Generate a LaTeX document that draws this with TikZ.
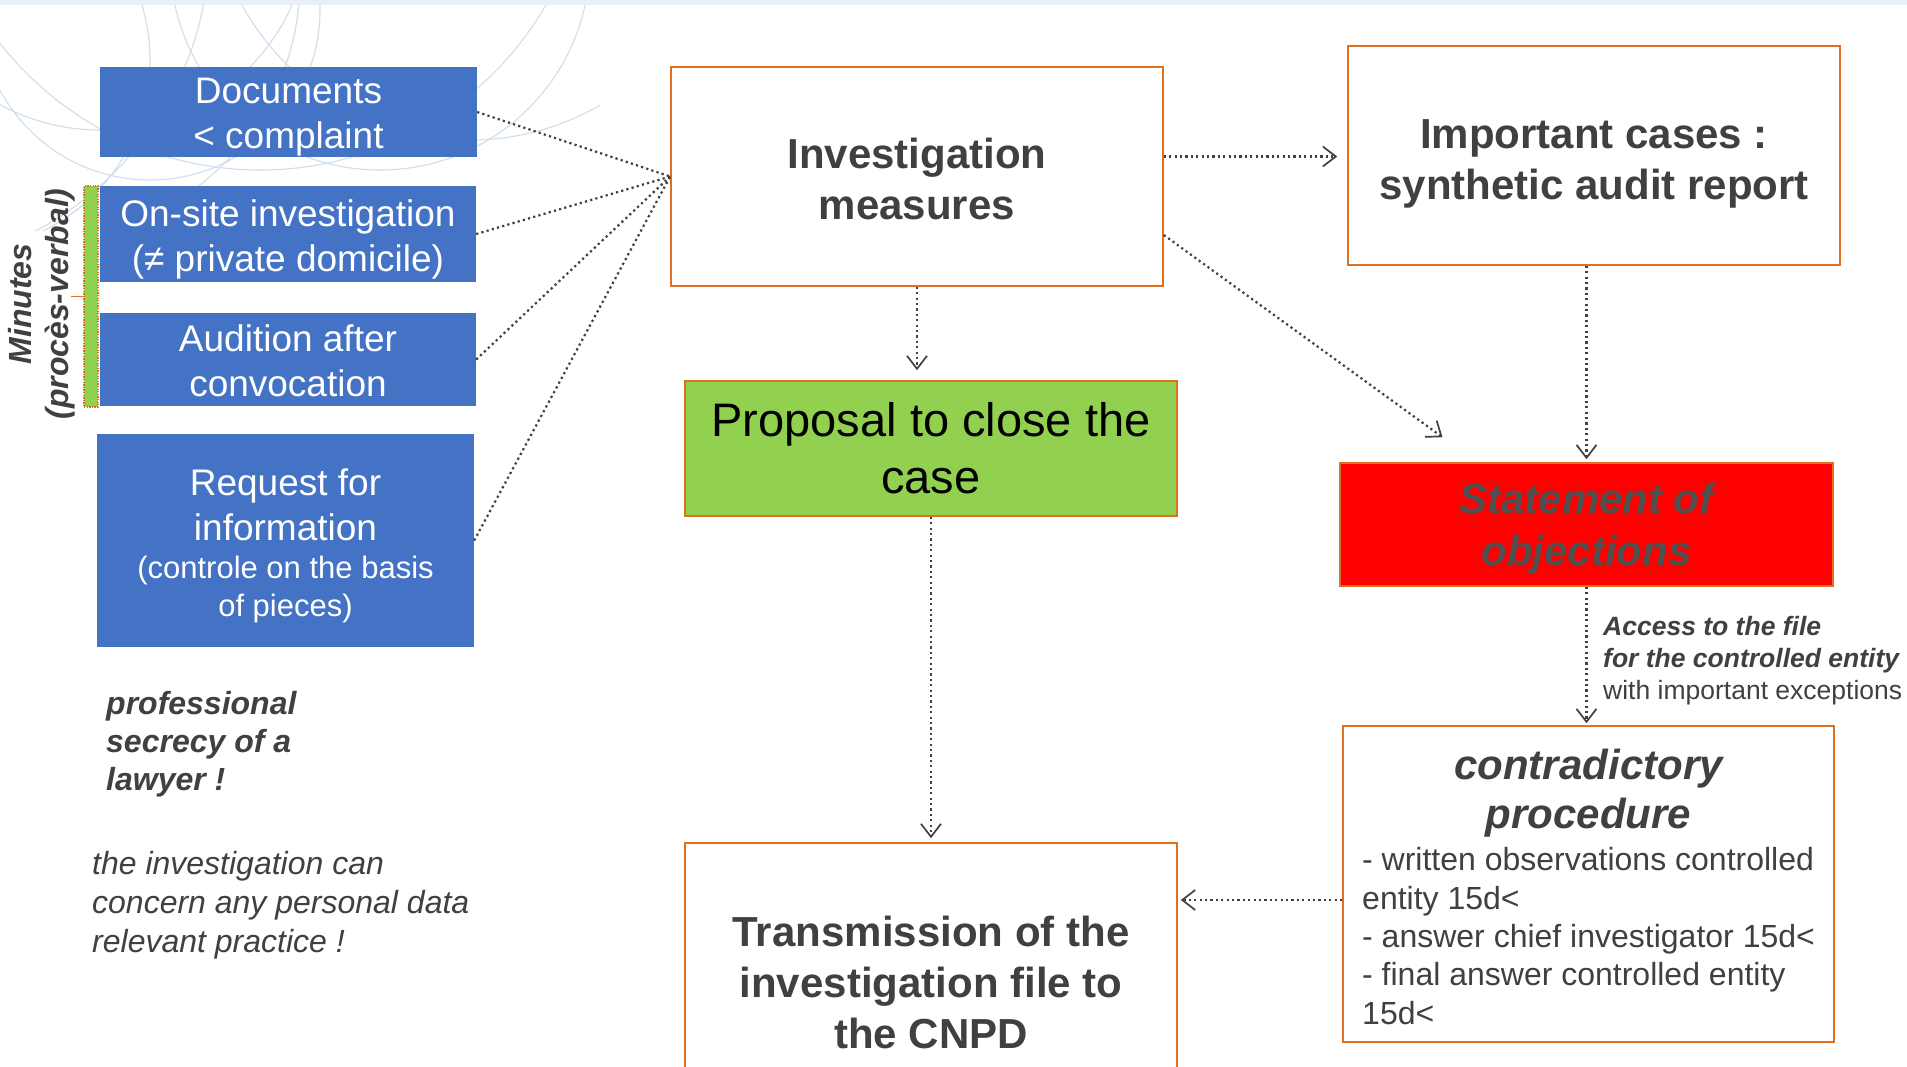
\documentclass[tikz,border=0pt]{standalone}
\usepackage{fontspec}
\setmainfont{Liberation Sans}
\usetikzlibrary{arrows.meta}

\definecolor{boxblue}{HTML}{4472C4}
\definecolor{edgeorange}{HTML}{E0701C}
\definecolor{okgreen}{HTML}{92D050}
\definecolor{alertred}{HTML}{FF0000}
\definecolor{txtgray}{HTML}{404040}
\definecolor{objgray}{HTML}{505050}
\definecolor{arcblue}{HTML}{D0DDEB}
\definecolor{bandblue}{HTML}{E8EFF8}

\newcommand\setfs[2]{\fontsize{#1}{#2}\selectfont}

\tikzset{
  bluebox/.style={fill=boxblue, inner sep=0pt},
  bluetext/.style={text=white, align=center, inner sep=0pt, font=\setfs{37}{45}},
  stagebox/.style={draw=edgeorange, line width=1.6pt, inner sep=0pt},
  stagetext/.style={align=center, inner sep=0pt, text=txtgray},
  plain/.style={align=left, inner sep=0pt, anchor=west, text=txtgray},
  feed/.style={draw=txtgray, line width=2.2pt, dash pattern=on 2.2pt off 3.2pt},
  flow/.style={feed, -{Straight Barb[length=13pt,width=20pt,line width=1.7pt]}},
}

\begin{document}
\begin{tikzpicture}[x=1pt, y=-1pt]
  \useasboundingbox (0,0) rectangle (1907,1066);
  \clip (0,0) rectangle (1907,1066);
  \fill[white] (0,0) rectangle (1907,1066);

  % ornamental arcs in the upper left corner and the top band
  \begin{scope}
    \clip (0,5) rectangle (600,230);
    \foreach \cx/\cy/\r in {100/-80/210, 260/-160/330, -40/60/190, 380/-40/210,
                            150/10/170, 40/-20/260, 470/-120/260, -120/-60/330}
      \draw[arcblue, line width=1.1pt] (\cx,\cy) circle[radius=\r];
  \end{scope}
  \fill[bandblue] (0,0) rectangle (1907,5);

  % inputs of the investigation
  \node[bluebox, minimum width=377pt, minimum height=90pt] (docs) at (288.5,112) {};
  \node[bluetext] (docs-txt) at ([yshift=-5pt]docs.center) {Documents\\< complaint};
  \node[bluebox, minimum width=376pt, minimum height=96pt] (onsite) at (288,234) {};
  \node[bluetext] (onsite-txt) at ([yshift=-5pt]onsite.center) {On-site investigation\\(≠ private domicile)};
  \node[bluebox, minimum width=376pt, minimum height=93pt] (audition) at (288,359.5) {};
  \node[bluetext] (audition-txt) at ([yshift=-1pt]audition.center) {Audition after\\convocation};
  \node[bluebox, minimum width=377pt, minimum height=213pt] (request) at (285.5,540.5) {};
  \node[bluetext] (request-txt) at ([yshift=-5pt]request.center)
    {Request for\\information\\[-7pt]
     \setfs{31}{38}(controle on the basis\\[-7pt]\setfs{31}{38}of pieces)};

  % minutes bracket
  \node[fill=okgreen, draw=edgeorange, line width=1.3pt, dash pattern=on 1.3pt off 1.3pt,
        minimum width=14pt, minimum height=221pt, inner sep=0pt] (bracket) at (91,296.5) {};
  \draw[edgeorange, line width=1.8pt] (bracket.west) -- ++(-12,0);
  \node[rotate=90, align=center, text=txtgray, inner sep=0pt, font=\setfs{32}{37}\bfseries\itshape]
    (minutes) at (42,304) {Minutes\\(procès-verbal)};

  % main stages
  \node[stagebox, minimum width=492pt, minimum height=219pt] (invest) at (917,176.5) {};
  \node[stagetext, font=\setfs{42}{51}\bfseries] (invest-txt) at ([yshift=-2pt]invest.center)
    {Investigation\\measures};
  \node[stagebox, minimum width=492pt, minimum height=219pt] (important) at (1594,155.5) {};
  \node[stagetext, font=\setfs{42}{51}\bfseries] (important-txt) at ([yshift=-8pt]important.center)
    {Important cases :\\synthetic audit report};
  \node[stagebox, fill=okgreen, minimum width=492pt, minimum height=135pt] (proposal) at (931,448.5) {};
  \node[stagetext, text=black, font=\setfs{47}{57}] (proposal-txt) at (proposal.center)
    {Proposal to close the\\case};
  \node[stagebox, fill=alertred, minimum width=493pt, minimum height=123pt] (statement) at (1586.5,524.5) {};
  \node[stagetext, text=objgray, font=\setfs{42}{52}\bfseries\itshape] (statement-txt)
    at ([yshift=-4pt]statement.center) {Statement of\\objections};
  \node[stagebox, minimum width=491pt, minimum height=316pt] (contra) at (1588.5,884) {};
  \node[stagetext, font=\setfs{42}{49}\bfseries\itshape] (contra-title) at (1588.5,793)
    {contradictory\\procedure};
  \node[plain, font=\setfs{32}{38.3}] (contra-list) at (1362,936)
    {- written observations controlled\\entity 15d<\\- answer chief investigator 15d<\\- final answer controlled entity\\15d<};
  \node[stagebox, minimum width=492pt, minimum height=277pt] (trans) at (931,981.5) {};
  \node[stagetext, font=\setfs{42}{51}\bfseries] (trans-txt) at ([yshift=-1pt]trans.center)
    {Transmission of the\\investigation file to\\the CNPD};

  % side notes
  \node[plain, font=\setfs{26.5}{32}] (access) at (1603,661)
    {\textbf{\textit{Access to the file}}\\\textbf{\textit{for the controlled entity}}\\with important exceptions};
  \node[plain, font=\setfs{32}{38}\bfseries\itshape] (secrecy) at (106,744)
    {professional\\secrecy of a\\lawyer !};
  \node[plain, font=\setfs{32}{39}\itshape] (scope) at (92,905)
    {the investigation can\\concern any personal data\\relevant practice !};

  % connectors
  \foreach \src in {docs, onsite, audition, request}
    \draw[feed] (\src.east) -- (invest.west);
  \draw[flow, shorten >=10pt] ([yshift=20pt]invest.east) -- ([yshift=20pt]invest.east -| important.west);
  \draw[flow] ([yshift=-58.5pt]invest.east) -- ([xshift=-144pt,yshift=25pt]statement.north);
  \draw[flow, shorten >=10pt] (invest.south) -- (invest.south |- proposal.north);
  \draw[flow, shorten >=3pt] (statement.north |- important.south) -- (statement.north);
  \draw[flow, shorten >=2pt] (statement.south) -- (statement.south |- contra.north);
  \draw[flow, shorten >=4pt] (proposal.south) -- (trans.north);
  \draw[flow, shorten >=3pt] ([yshift=-16pt]contra.west) -- ([yshift=-16pt]contra.west -| trans.east);
\end{tikzpicture}
\end{document}
